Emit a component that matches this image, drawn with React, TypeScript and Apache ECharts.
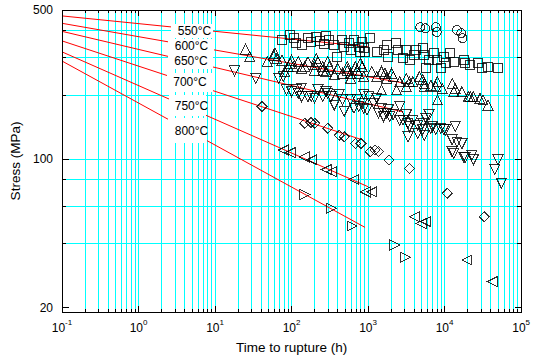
import React, { useEffect, useRef } from "react";
import * as echarts from "echarts";

// ---- axes ----
const TIME_MIN = 0.1;
const TIME_MAX = 100000;
const STRESS_MIN = 19.1;
const STRESS_MAX = 500;
const TIME_DECADES = [0.1, 1, 10, 100, 1000, 10000, 100000];
const TIME_MULTIPLIERS = [2, 3, 4, 5, 6, 7, 8, 9];
const STRESS_MAJOR_TICKS = [20, 100, 500];
const STRESS_MINOR_TICKS = [40, 60, 80, 200, 300, 400];
const STRESS_GRID = [40, 60, 80, 100, 200, 300, 400];

// ---- temperature labels ----
const TEMPERATURES = ["550°C", "600°C", "650°C", "700°C", "750°C", "800°C"];

// ---- fitted lines [time h, stress MPa] ----
const FIT_550 = [[0.1, 469], [1000, 336]];
const FIT_600 = [[0.1, 433], [3160, 226]];
const FIT_650 = [[0.1, 397], [2900, 166]];
const FIT_700 = [[0.1, 358], [830, 123]];
const FIT_750 = [[0.1, 318], [1000, 74]];
const FIT_800 = [[0.1, 288], [910, 47.7]];

// ---- rupture data [time h, stress MPa] ----
const CIRCLES = [[4800, 415], [5600, 410], [7700, 415], [7900, 394], [14500, 403], [16500, 389], [17200, 369]];

const SQUARES = [
  [76, 361], [96, 381], [109, 368], [116, 351], [135, 342], [164, 368], [181, 355], [210, 372],
  [232, 359], [282, 377], [269, 346], [312, 361], [362, 342], [391, 302], [462, 361], [486, 336],
  [564, 349], [591, 324], [653, 361], [757, 336], [794, 318], [835, 355], [1067, 368], [878, 330],
  [920, 318], [1300, 318], [1600, 324], [1750, 342], [1840, 302], [2350, 349], [2470, 324], [2860, 296],
  [3160, 324], [3480, 291], [4040, 307], [4240, 324], [5170, 330], [5420, 307], [5700, 266], [6290, 291],
  [7290, 313], [8050, 291], [8890, 266], [9800, 302], [10300, 281], [11900, 313], [13200, 286], [17700, 291],
  [18600, 281], [21600, 276], [27600, 281], [30500, 266], [37000, 271], [49800, 266],
];

const TRI_UP = [
  [25, 327], [28.5, 302], [48, 286], [58, 307], [61, 313], [64, 296], [75, 291], [82, 257], [91, 271],
  [96, 281], [100, 291], [105, 271], [122, 286], [135, 266], [149, 271], [164, 286], [200, 276], [200, 261],
  [210, 296], [221, 286], [256, 261], [256, 271], [282, 257], [297, 286], [312, 271], [362, 248], [399, 266],
  [462, 252], [536, 261], [536, 271], [591, 239], [591, 252], [685, 271], [720, 261], [757, 252], [794, 281],
  [835, 271], [878, 243], [1120, 257], [1300, 243], [1500, 257], [1500, 211], [1660, 252], [1750, 239],
  [2030, 252], [2130, 243], [2350, 211], [2590, 230], [3160, 239], [3160, 218], [3480, 230], [3850, 230],
  [4680, 243], [5170, 235], [5420, 226], [5420, 218], [6610, 222], [7660, 218], [8050, 230], [8050, 189],
  [9350, 214], [12560, 226], [13200, 207], [13840, 214], [16870, 207], [20500, 196], [21600, 196],
  [23800, 196], [29000, 192], [31900, 189], [37000, 179],
];

const TRI_DOWN = [
  [18, 259], [34, 239], [68, 239], [78, 243], [86, 211], [100, 207], [116, 211], [122, 203], [135, 215],
  [135, 196], [164, 196], [181, 196], [200, 193], [221, 211], [256, 196], [282, 207], [297, 203], [327, 196],
  [362, 179], [419, 200], [462, 189], [486, 167], [591, 189], [653, 173], [720, 189], [757, 176], [835, 182],
  [878, 173], [878, 200], [968, 170], [1018, 196], [1180, 182], [1300, 193], [1370, 164], [1510, 173],
  [1590, 158], [1750, 164], [1840, 170], [1930, 158], [2130, 161], [2590, 176], [2590, 152], [2860, 152],
  [3160, 161], [3320, 147], [3320, 127], [3480, 142], [3850, 152], [4460, 144], [4460, 132], [5170, 137],
  [5170, 147], [5420, 129], [5700, 155], [6290, 161], [6610, 139], [6950, 142], [7660, 137], [8890, 139],
  [9800, 137], [10300, 137], [12560, 123], [12560, 108], [13200, 106], [13840, 142], [14550, 120],
  [16870, 118], [17700, 102], [18600, 101], [22700, 104], [23800, 99], [45200, 89], [49800, 99], [55100, 77],
];

const DIAMONDS = [
  [41, 176], [149, 147], [180, 148], [200, 147], [297, 139], [419, 129], [490, 127], [685, 118], [810, 118],
  [1070, 108], [1240, 110], [1370, 108], [1880, 99], [3480, 90], [10800, 69], [33000, 53.5],
];

const TRI_LEFT = [
  [78, 110], [96, 107], [146, 102], [185, 99], [284, 89], [334, 87], [653, 80], [920, 70], [1120, 70],
  [4040, 53.5], [4920, 49.8], [5700, 50.7], [19600, 33.5], [41700, 26.5],
];

const TRI_RIGHT = [[149, 68], [334, 58.6], [620, 48.4], [2240, 39.4], [3090, 34.5]];

// ---- layout of the temperature label boxes (pixels) ----
const LABEL_BOXES = [
  { cx: 194.5, cy: 31, x: 171, y: 24, w: 42, h: 14 },
  { cx: 191.5, cy: 46, x: 168, y: 38.5, w: 46, h: 15 },
  { cx: 191, cy: 61, x: 168, y: 53.5, w: 45, h: 15 },
  { cx: 190, cy: 82, x: 167, y: 72.5, w: 46, h: 19 },
  { cx: 191.5, cy: 105.5, x: 169, y: 94.5, w: 37, h: 21 },
  { cx: 191.5, cy: 130.5, x: 168, y: 118, w: 39, h: 25 },
];

const FONT = "'Liberation Sans', Arial, Helvetica, sans-serif";
const GRID_CYAN = "#00ffff";

const CRISP_CSS = `
.chart-root svg path { shape-rendering: crispEdges; }
.chart-root svg path[stroke="#ff0000"], .chart-root svg path[stroke="#FF0000"],
.chart-root svg path[stroke="rgb(255,0,0)"], .chart-root svg path[stroke="rgb(255, 0, 0)"],
.chart-root svg path[stroke="red"] { shape-rendering: geometricPrecision; }
`;

export default function App() {
  const ref = useRef<HTMLDivElement>(null);

  useEffect(() => {
    document.body.style.margin = "0";
    if (!ref.current) return;
    const chart = echarts.init(ref.current, undefined, { renderer: "svg" });

    const timeMinor: number[] = [];
    TIME_DECADES.slice(0, -1).forEach((d) =>
      TIME_MULTIPLIERS.forEach((m) => timeMinor.push(Number((d * m).toPrecision(6))))
    );
    const timeGrid = [...timeMinor, ...TIME_DECADES.slice(1, -1)];

    const black = { color: "#000", width: 1 };
    const baseX = { type: "log", logBase: 10, min: TIME_MIN, max: TIME_MAX, z: 10 };
    const baseY = { type: "log", logBase: 10, min: STRESS_MIN, max: STRESS_MAX, z: 10 };

    const lineSeries = (name: string, data: number[][]) => ({
      name,
      type: "line",
      data,
      symbol: "none",
      silent: true,
      lineStyle: { color: "#ff0000", width: 1 },
      z: 3,
    });

    const scatter = (name: string, data: number[][], symbol: string, size: number, rotate = 0) => ({
      name,
      type: "scatter",
      data,
      symbol,
      symbolSize: size,
      symbolRotate: rotate,
      itemStyle: { color: "rgba(0,0,0,0)", borderColor: "#000", borderWidth: 1 },
      z: 4,
    });

    const gridSeries = {
      name: "grid",
      type: "line",
      data: [],
      silent: true,
      z: 1,
      markLine: {
        silent: true,
        symbol: ["none", "none"],
        label: { show: false },
        z: 1,
        lineStyle: { color: GRID_CYAN, width: 1, type: "solid", opacity: 1 },
        emphasis: { disabled: true },
        data: [
          ...timeGrid.map((v) => ({ xAxis: v })),
          ...STRESS_GRID.map((v) => ({ yAxis: v })),
        ],
      },
    };

    const graphics: any[] = [];
    LABEL_BOXES.forEach((b, i) => {
      graphics.push({
        type: "rect",
        shape: { x: b.x, y: b.y, width: b.w, height: b.h },
        style: { fill: "#fff" },
        z: 100,
      });
      graphics.push({
        type: "text",
        x: b.cx,
        y: b.cy,
        style: {
          text: TEMPERATURES[i],
          fill: "#000",
          font: `12px ${FONT}`,
          align: "center",
          verticalAlign: "middle",
        },
        z: 101,
      });
    });

    const option: any = {
      animation: false,
      backgroundColor: "#fff",
      textStyle: { fontFamily: FONT },
      grid: { left: 60, right: 6.5, top: 10, bottom: 48, containLabel: false },
      xAxis: [
        {
          ...baseX,
          position: "bottom",
          axisLine: { show: true, onZero: false, lineStyle: black },
          axisTick: { show: true, inside: true, length: 6, customValues: TIME_DECADES, lineStyle: black },
          axisLabel: {
            customValues: TIME_DECADES,
            margin: 6,
            formatter: (v: number) => `{b|10}{s|${Math.round(Math.log10(v))}}`,
            rich: {
              b: { fontSize: 12, fontFamily: FONT, color: "#000", lineHeight: 16, verticalAlign: "bottom" },
              s: { fontSize: 8, fontFamily: FONT, color: "#000", lineHeight: 8, verticalAlign: "top" },
            },
          },
          splitLine: { show: false },
          name: "Time to rupture (h)",
          nameLocation: "middle",
          nameGap: 28,
          nameTextStyle: { fontSize: 13.5, fontFamily: FONT, color: "#000" },
        },
        {
          ...baseX,
          position: "bottom",
          axisLine: { show: false },
          axisTick: { show: true, inside: true, length: 3, customValues: timeMinor, lineStyle: black },
          axisLabel: { show: false },
          splitLine: { show: false },
        },
        {
          ...baseX,
          position: "top",
          axisLine: { show: true, onZero: false, lineStyle: black },
          axisTick: { show: true, inside: true, length: 6, customValues: TIME_DECADES, lineStyle: black },
          axisLabel: { show: false },
          splitLine: { show: false },
        },
        {
          ...baseX,
          position: "top",
          axisLine: { show: false },
          axisTick: { show: true, inside: true, length: 3, customValues: timeMinor, lineStyle: black },
          axisLabel: { show: false },
          splitLine: { show: false },
        },
      ],
      yAxis: [
        {
          ...baseY,
          position: "left",
          axisLine: { show: true, onZero: false, lineStyle: black },
          axisTick: { show: true, inside: true, length: 7, customValues: STRESS_MAJOR_TICKS, lineStyle: black },
          axisLabel: { customValues: STRESS_MAJOR_TICKS, margin: 9, fontSize: 12, fontFamily: FONT, color: "#000" },
          splitLine: { show: false },
          name: "Stress (MPa)",
          nameLocation: "middle",
          nameGap: 40,
          nameTextStyle: { fontSize: 13.5, fontFamily: FONT, color: "#000" },
        },
        {
          ...baseY,
          position: "left",
          axisLine: { show: false },
          axisTick: { show: true, inside: true, length: 4, customValues: STRESS_MINOR_TICKS, lineStyle: black },
          axisLabel: { show: false },
          splitLine: { show: false },
        },
        {
          ...baseY,
          position: "right",
          axisLine: { show: true, onZero: false, lineStyle: black },
          axisTick: { show: true, inside: true, length: 6, customValues: STRESS_MAJOR_TICKS, lineStyle: black },
          axisLabel: { show: false },
          splitLine: { show: false },
        },
        {
          ...baseY,
          position: "right",
          axisLine: { show: false },
          axisTick: { show: true, inside: true, length: 4, customValues: STRESS_MINOR_TICKS, lineStyle: black },
          axisLabel: { show: false },
          splitLine: { show: false },
        },
      ],
      series: [
        gridSeries,
        lineSeries(TEMPERATURES[0], FIT_550),
        lineSeries(TEMPERATURES[1], FIT_600),
        lineSeries(TEMPERATURES[2], FIT_650),
        lineSeries(TEMPERATURES[3], FIT_700),
        lineSeries(TEMPERATURES[4], FIT_750),
        lineSeries(TEMPERATURES[5], FIT_800),
        scatter("circles", CIRCLES, "circle", 9),
        scatter("squares", SQUARES, "rect", 9),
        scatter("triangles up", TRI_UP, "triangle", 10),
        scatter("triangles down", TRI_DOWN, "triangle", 10, 180),
        scatter("diamonds", DIAMONDS, "diamond", 10),
        scatter("triangles left", TRI_LEFT, "triangle", 10, 90),
        scatter("triangles right", TRI_RIGHT, "triangle", 10, -90),
      ],
      graphic: graphics,
    };

    chart.setOption(option);
    return () => chart.dispose();
  }, []);

  return (
    <>
      <style>{CRISP_CSS}</style>
      <div className="chart-root" ref={ref} style={{ width: 533, height: 360 }} />
    </>
  );
}
